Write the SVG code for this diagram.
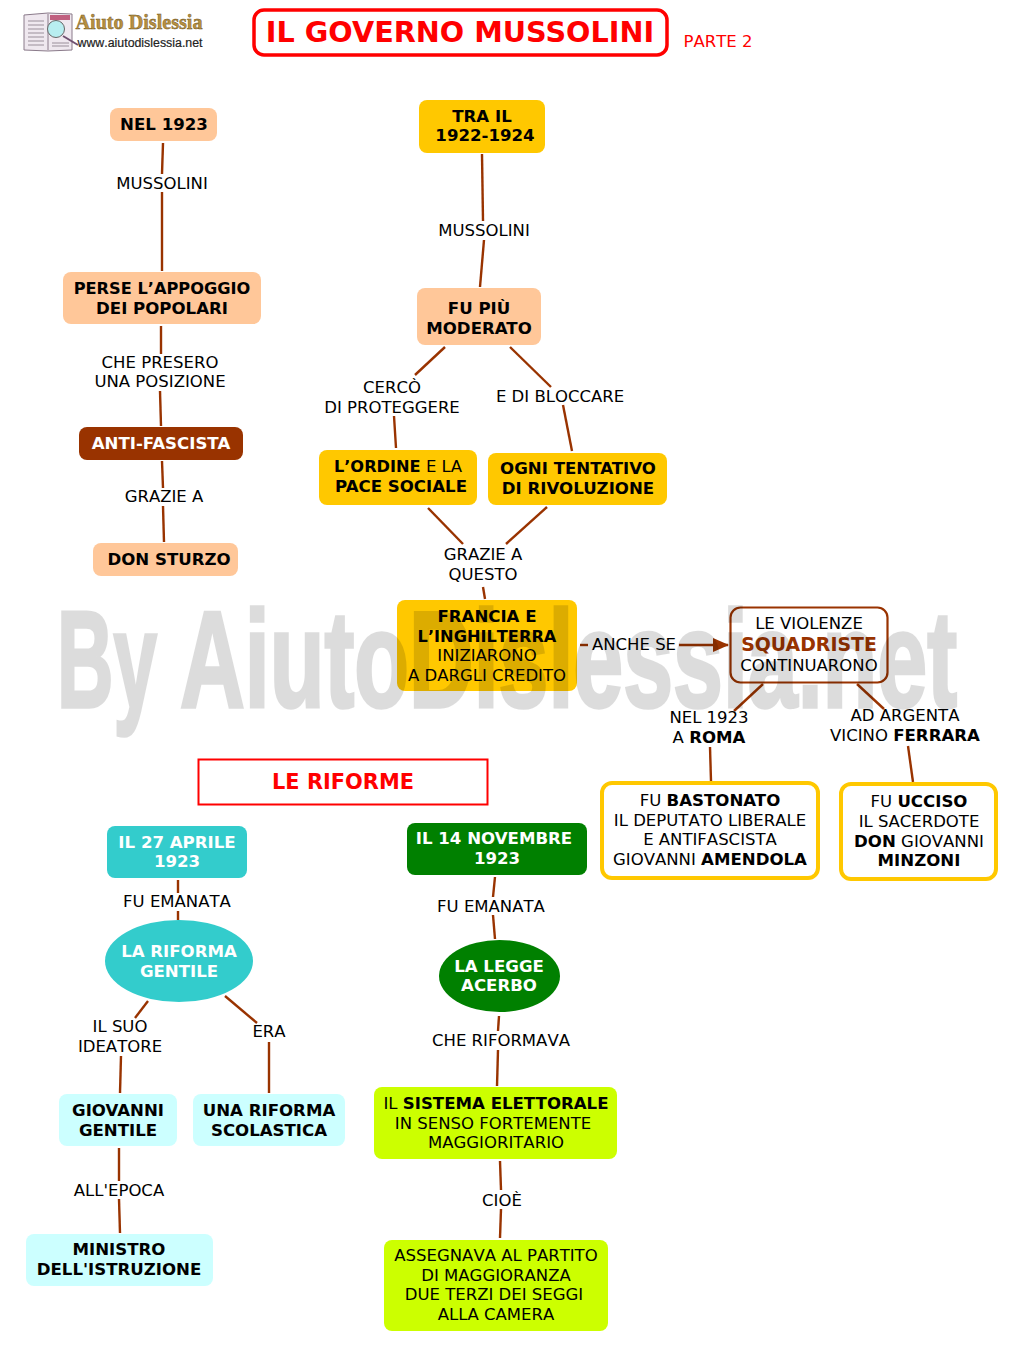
<svg xmlns="http://www.w3.org/2000/svg" width="1010" height="1351" viewBox="0 0 1010 1351">
<style>
text{font-family:"DejaVu Sans",Verdana,sans-serif;font-size:16.5px;text-anchor:middle;fill:#000;font-kerning:none}
.b,tspan.b{font-weight:700;font-size:16.6px;font-kerning:normal}
.b.k,tspan.b.k{font-kerning:none;font-size:16.2px}
.w{fill:#fff;font-weight:700;font-size:16.6px;font-kerning:normal}
.c line{stroke:#993300;stroke-width:2.4;fill:none}
.p{fill:#ffc799}.y{fill:#ffc800}.t{fill:#33cccc}.g{fill:#008000}.l{fill:#ccff00}.a{fill:#ccffff}
.wm{font-family:'Liberation Sans',sans-serif;font-size:138px;font-weight:700;fill:#000;stroke:#000;stroke-width:3.5;text-anchor:start}
.pg{stroke:#9a8f9a;stroke-width:1}
</style>
<defs><marker id="ah" markerWidth="16" markerHeight="14" refX="15" refY="7" orient="auto" markerUnits="userSpaceOnUse"><path d="M0 0L16 7L0 14z" fill="#993300"/></marker></defs>
<rect width="1010" height="1351" fill="#fff"/>
<g id="logo">
<path d="M24 15L48 13L72 14V50L48 51L24 50z" fill="#efe8ef" stroke="#8a7a8a"/>
<line x1="48" y1="14" x2="48" y2="50" stroke="#8a7a8a"/>
<path class="pg" d="M28 21H44M28 25H44M28 29H44M28 33H44M28 37H44M28 41H44M28 45H44M52 43H69M52 46H69"/>
<rect x="50" y="15" width="20" height="5" fill="#c06080"/>
<circle cx="56" cy="29" r="8.500" fill="#b8eef0" stroke="#666"/>
<line x1="63" y1="36" x2="78" y2="45" stroke="#705070" stroke-width="2"/>
<text x="139" y="29" style="font-family:'Liberation Serif',serif;font-size:20px;font-weight:700;fill:#b89040;stroke:#6a5020;stroke-width:.4" textLength="127" lengthAdjust="spacingAndGlyphs">Aiuto Dislessia</text>
<text x="140" y="47" style="font-family:'Liberation Sans',sans-serif;font-size:12.500px;fill:#222;stroke:#222;stroke-width:.2" textLength="125" lengthAdjust="spacingAndGlyphs">www.aiutodislessia.net</text>
</g>
<g id="title"><rect x="254" y="10" width="413" height="45" rx="10" fill="#fff" stroke="#f00" stroke-width="3.500"/>
<text x="460" y="42" class="b" style="font-size:28.700px;fill:#f00">IL GOVERNO MUSSOLINI</text></g>
<text id="parte" x="718" y="47" style="fill:#f00">PARTE 2</text>
<g class="c" id="connectors">
<line x1="163" y1="143" x2="162" y2="174"/><line x1="162" y1="192" x2="162" y2="271"/>
<line x1="161" y1="326" x2="161" y2="354"/><line x1="160" y1="391" x2="161" y2="426"/>
<line x1="162" y1="461" x2="163" y2="488"/><line x1="163" y1="506" x2="164" y2="542"/>
<line x1="482" y1="154" x2="483" y2="221"/><line x1="484" y1="240" x2="480" y2="287"/>
<line x1="445" y1="347" x2="415" y2="375"/><line x1="394" y1="416" x2="396" y2="448"/>
<line x1="510" y1="347" x2="551" y2="387"/><line x1="563" y1="405" x2="572" y2="451"/>
<line x1="428" y1="508" x2="463" y2="544"/><line x1="547" y1="507" x2="506" y2="544"/>
<line x1="483" y1="587" x2="485" y2="599"/>
<line x1="580" y1="645" x2="588" y2="645"/><line x1="679" y1="645" x2="728" y2="645" marker-end="url(#ah)"/>
<line x1="763" y1="684" x2="734" y2="711"/><line x1="710" y1="747" x2="711" y2="781"/>
<line x1="857" y1="684" x2="884" y2="709"/><line x1="908" y1="746" x2="913" y2="782"/>
<line x1="178" y1="880" x2="178" y2="893"/><line x1="178" y1="911" x2="178" y2="920"/>
<line x1="148" y1="1001" x2="135" y2="1018"/><line x1="121" y1="1056" x2="120" y2="1093"/>
<line x1="225" y1="996" x2="257" y2="1023"/><line x1="269" y1="1042" x2="269" y2="1093"/>
<line x1="119" y1="1148" x2="119" y2="1181"/><line x1="119" y1="1199" x2="120" y2="1233"/>
<line x1="495" y1="877" x2="493" y2="897"/><line x1="493" y1="915" x2="495" y2="939"/>
<line x1="499" y1="1016" x2="498" y2="1031"/><line x1="498" y1="1050" x2="497" y2="1086"/>
<line x1="500" y1="1161" x2="501" y2="1190"/><line x1="501" y1="1209" x2="500" y2="1238"/>
</g>
<g id="n1"><rect x="110" y="108" width="107" height="33" rx="8" class="p"/><text x="164" y="130" class="b">NEL 1923</text></g>
<text x="162" y="189">MUSSOLINI</text>
<g id="n2"><rect x="63" y="272" width="198" height="52" rx="8" class="p"/><text x="162" y="294" class="b k">PERSE L’APPOGGIO</text><text x="162" y="314" class="b">DEI POPOLARI</text></g>
<text x="160" y="368">CHE PRESERO</text><text x="160" y="387">UNA POSIZIONE</text>
<g id="n3"><rect x="79" y="427" width="164" height="33" rx="8" fill="#993300"/><text x="161" y="449" class="w">ANTI-FASCISTA</text></g>
<text x="164" y="502">GRAZIE A</text>
<g id="n4"><rect x="93" y="543" width="145" height="33" rx="8" class="p"/><text x="169" y="565" class="b">DON STURZO</text></g>
<g id="n5"><rect x="419" y="100" width="126" height="53" rx="8" class="y"/><text x="482" y="122" class="b">TRA IL</text><text x="485" y="141" class="b">1922-1924</text></g>
<text x="484" y="236">MUSSOLINI</text>
<g id="n6"><rect x="417" y="288" width="124" height="57" rx="8" class="p"/><text x="479" y="314" class="b">FU PIÙ</text><text x="479" y="334" class="b">MODERATO</text></g>
<text x="392" y="393">CERCÒ</text><text x="392" y="413">DI PROTEGGERE</text>
<text x="560" y="402">E DI BLOCCARE</text>
<g id="n7"><rect x="319" y="450" width="158" height="55" rx="8" class="y"/><text x="398" y="472"><tspan class="b k">L’ORDINE</tspan> E LA</text><text x="401" y="492" class="b">PACE SOCIALE</text></g>
<g id="n8"><rect x="488" y="453" width="179" height="52" rx="8" class="y"/><text x="578" y="474" class="b">OGNI TENTATIVO</text><text x="578" y="494" class="b">DI RIVOLUZIONE</text></g>
<text x="483" y="560">GRAZIE A</text><text x="483" y="580">QUESTO</text>
<g id="n9"><rect x="397" y="600" width="180" height="91" rx="8" class="y"/><text x="487" y="622" class="b">FRANCIA E</text><text x="487" y="642" class="b k">L’INGHILTERRA</text><text x="487" y="661">INIZIARONO</text><text x="487" y="681">A DARGLI CREDITO</text></g>
<text x="634" y="650">ANCHE SE</text>
<g id="n10"><rect x="730.500" y="607.500" width="157" height="75" rx="10" fill="#fff" stroke="#993300" stroke-width="2.200"/><text x="809" y="629">LE VIOLENZE</text><text x="809" y="651" class="b" style="font-size:18.900px;fill:#993300">SQUADRISTE</text><text x="809" y="671">CONTINUARONO</text></g>
<text x="709" y="723">NEL 1923</text><text x="709" y="743">A <tspan class="b">ROMA</tspan></text>
<text x="905" y="721">AD ARGENTA</text><text x="905" y="741">VICINO <tspan class="b">FERRARA</tspan></text>
<g id="n11"><rect x="602" y="783" width="216" height="95" rx="10" fill="#fff" stroke="#ffc800" stroke-width="4"/><text x="710" y="806">FU <tspan class="b">BASTONATO</tspan></text><text x="710" y="826">IL DEPUTATO LIBERALE</text><text x="710" y="845">E ANTIFASCISTA</text><text x="710" y="865">GIOVANNI <tspan class="b">AMENDOLA</tspan></text></g>
<g id="n12"><rect x="841" y="784" width="155" height="95" rx="10" fill="#fff" stroke="#ffc800" stroke-width="4"/><text x="919" y="807">FU <tspan class="b">UCCISO</tspan></text><text x="919" y="827">IL SACERDOTE</text><text x="919" y="847"><tspan class="b">DON</tspan> GIOVANNI</text><text x="919" y="866" class="b">MINZONI</text></g>
<g id="n13"><rect x="198.500" y="759.500" width="289" height="45" fill="#fff" stroke="#f00" stroke-width="2"/><text x="343" y="789" class="b" style="font-size:20.900px;fill:#f00">LE RIFORME</text></g>
<g id="n14"><rect x="107" y="826" width="140" height="52" rx="8" class="t"/><text x="177" y="848" class="w">IL 27 APRILE</text><text x="177" y="867" class="w">1923</text></g>
<text x="177" y="907">FU EMANATA</text>
<g id="n15"><ellipse cx="179" cy="961" rx="74" ry="41" class="t"/><text x="179" y="957" class="w">LA RIFORMA</text><text x="179" y="977" class="w">GENTILE</text></g>
<text x="120" y="1032">IL SUO</text><text x="120" y="1052">IDEATORE</text>
<text x="269" y="1037">ERA</text>
<g id="n16"><rect x="59" y="1094" width="118" height="52" rx="8" class="a"/><text x="118" y="1116" class="b">GIOVANNI</text><text x="118" y="1136" class="b">GENTILE</text></g>
<g id="n17"><rect x="193" y="1094" width="152" height="52" rx="8" class="a"/><text x="269" y="1116" class="b">UNA RIFORMA</text><text x="269" y="1136" class="b">SCOLASTICA</text></g>
<text x="119" y="1196">ALL'EPOCA</text>
<g id="n18"><rect x="26" y="1234" width="187" height="52" rx="8" class="a"/><text x="119" y="1255" class="b">MINISTRO</text><text x="119" y="1275" class="b">DELL'ISTRUZIONE</text></g>
<g id="n19"><rect x="407" y="823" width="180" height="52" rx="8" class="g"/><text x="494" y="844" class="w">IL 14 NOVEMBRE</text><text x="497" y="864" class="w">1923</text></g>
<text x="491" y="912">FU EMANATA</text>
<g id="n20"><ellipse cx="499.500" cy="976" rx="60.500" ry="36" class="g"/><text x="499" y="972" class="w">LA LEGGE</text><text x="499" y="991" class="w">ACERBO</text></g>
<text x="501" y="1046">CHE RIFORMAVA</text>
<g id="n21"><rect x="374" y="1087" width="243" height="72" rx="8" class="l"/><text x="496" y="1109">IL <tspan class="b">SISTEMA ELETTORALE</tspan></text><text x="493" y="1129">IN SENSO FORTEMENTE</text><text x="496" y="1148">MAGGIORITARIO</text></g>
<text x="502" y="1206">CIOÈ</text>
<g id="n22"><rect x="384" y="1240" width="224" height="91" rx="8" class="l"/><text x="496" y="1261">ASSEGNAVA AL PARTITO</text><text x="496" y="1281">DI MAGGIORANZA</text><text x="494" y="1300">DUE TERZI DEI SEGGI</text><text x="496" y="1320">ALLA CAMERA</text></g>
<g id="watermark" opacity=".135">
<text x="57" y="707" class="wm" textLength="100" lengthAdjust="spacingAndGlyphs">By</text>
<text x="180" y="707" class="wm" textLength="777" lengthAdjust="spacingAndGlyphs">AiutoDislessia.net</text>
</g>
</svg>
